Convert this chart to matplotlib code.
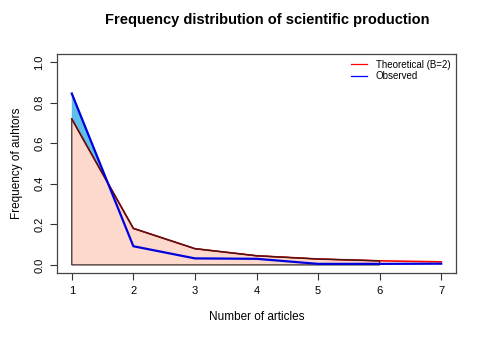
import numpy as np
import matplotlib
matplotlib.use('Agg')
import matplotlib.pyplot as plt

plt.rcParams['font.family'] = ['Liberation Sans', 'DejaVu Sans']

# data
articles = [1, 2, 3, 4, 5, 6, 7]
theoretical = [0.72, 0.18, 0.08, 0.045, 0.029, 0.02, 0.015]
observed = [0.845, 0.092, 0.032, 0.03, 0.005, 0.005, 0.006]
y_ticks = [0.0, 0.2, 0.4, 0.6, 0.8, 1.0]

fig = plt.figure(figsize=(4.83, 3.45), dpi=100)
ax = fig.add_axes([57 / 483, 1 - 273 / 345, 399 / 483, 219 / 345])

x = np.array(articles, dtype=float)
th = np.array(theoretical)
ob = np.array(observed)

# shaded area under the theoretical curve (up to 6 articles)
n = 6
ax.fill(np.r_[x[:n], x[n - 1], x[0]], np.r_[th[:n], 0, 0],
        facecolor='#fdd8cc', edgecolor='#3a2a2a', linewidth=0.9, zorder=1)
# where observed exceeds theoretical
xf = np.linspace(1, 7, 601)
tf = np.interp(xf, x, th)
of = np.interp(xf, x, ob)
ax.fill_between(xf, tf, of, where=of > tf, facecolor='#5cc0ea',
                edgecolor='none', zorder=2)

ax.plot(x, th, color='red', linewidth=1.2, zorder=3)
ax.plot(x[:n], th[:n], color='#3a1a1a', linewidth=0.9, zorder=3)
ax.plot(x, ob, color='#0000dd', linewidth=1.6, zorder=4)

ax.set_xlim(0.76, 7.24)
ax.set_ylim(-0.04, 1.04)
ax.set_xticks(articles)
ax.set_yticks(y_ticks)
ax.set_yticklabels(['%.1f' % v for v in y_ticks], rotation=90, va='center')
ax.tick_params(labelsize=8, length=5, width=0.8, color='#333333', pad=4)
for s in ax.spines.values():
    s.set_color('#444444')
    s.set_linewidth(0.9)

ax.set_xlabel('Number of articles', fontsize=8.5, labelpad=11)
ax.set_ylabel('Frequency of auhtors', fontsize=8.5, labelpad=8)
fig.text(267 / 483, 1 - 20 / 345, 'Frequency distribution of scientific production',
         ha='center', va='center', fontsize=10.5, fontweight='bold')

ax.plot([], [], color='red', linewidth=0.9, label='Theoretical (B=2)')
ax.plot([], [], color='blue', linewidth=0.9, label='Observed')
ax.legend(loc='upper right', frameon=False, fontsize=7, handlelength=1.6,
          labelspacing=0.15, borderaxespad=0.2, handletextpad=0.9)

fig.savefig('out.png', dpi=100)
